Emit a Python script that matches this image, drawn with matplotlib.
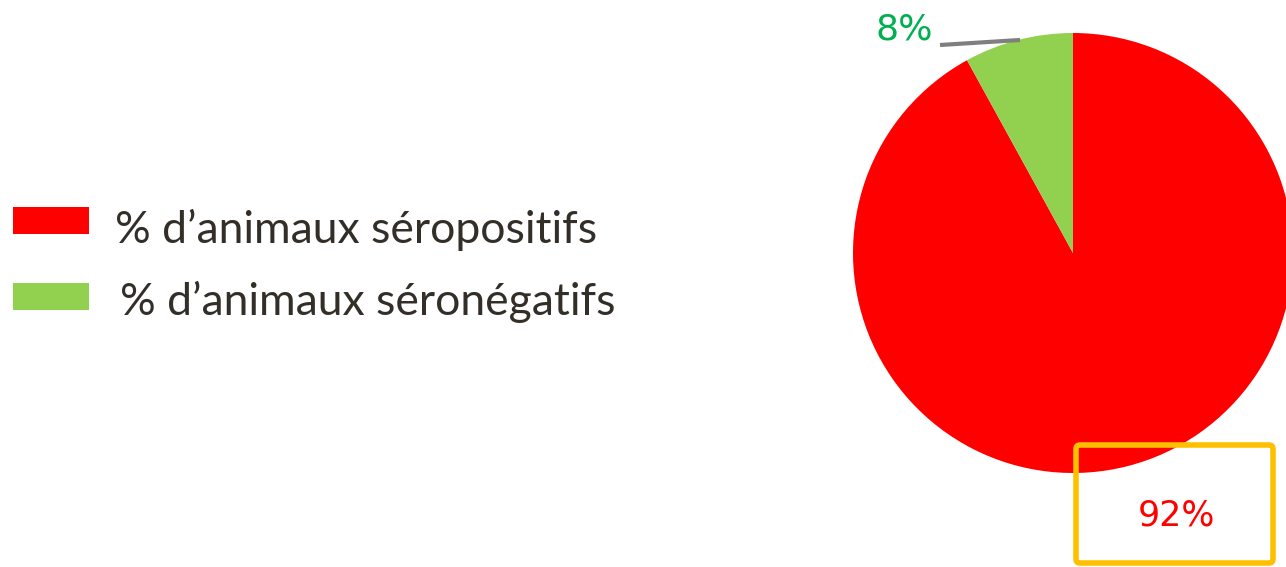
import matplotlib.pyplot as plt
from matplotlib.patches import Rectangle, FancyBboxPatch

# Data
labels = ["% d\u2019animaux séropositifs", "% d\u2019animaux séronégatifs"]
values = [92, 8]
pct_labels = ["92%", "8%"]
colors = ["#ff0000", "#92d050"]
label_colors = ["#ff0000", "#00b050"]

W, H = 1286, 567
fig = plt.figure(figsize=(W / 100, H / 100), dpi=100)
ax = fig.add_axes([0, 0, 1, 1])

# pie, y measured from the bottom
cx, cy, r = 1073, H - 253, 220
ax.pie(values, colors=colors, startangle=90, counterclock=False,
       center=(cx, cy), radius=r, frame=True,
       wedgeprops=dict(linewidth=0))
ax.set_xlim(0, W)
ax.set_ylim(0, H)
ax.set_aspect("equal")
ax.axis("off")

# leader line and small label for the green slice
ax.plot([940, 1020], [H - 45, H - 40], color="#7f7f7f", lw=3, solid_capstyle="butt")
ax.text(904, H - 29, pct_labels[1], color=label_colors[1], fontsize=26,
        family="DejaVu Sans", ha="center", va="center")

# label for the red slice, in an orange box
box = FancyBboxPatch((1076, H - 563), 197, 118, boxstyle="round,pad=0,rounding_size=4",
                     fill=False, edgecolor="#ffc000", lw=4)
ax.add_patch(box)
ax.text(1176, H - 515, pct_labels[0], color=label_colors[0], fontsize=25,
        family="DejaVu Sans", ha="center", va="center")

# legend drawn by hand: (patch top, text x, text baseline) in pixels from top
rows = [(207, 115, 243), (283, 120, 315)]
for (top, tx, base), lab, col in zip(rows, labels, colors):
    ax.add_patch(Rectangle((13, H - top - 27), 76, 27, color=col, lw=0))
    ax.text(tx, H - base, lab, color="#332e28", fontsize=32,
            family="Lato", ha="left", va="baseline")

plt.savefig("out.png", dpi=100)
